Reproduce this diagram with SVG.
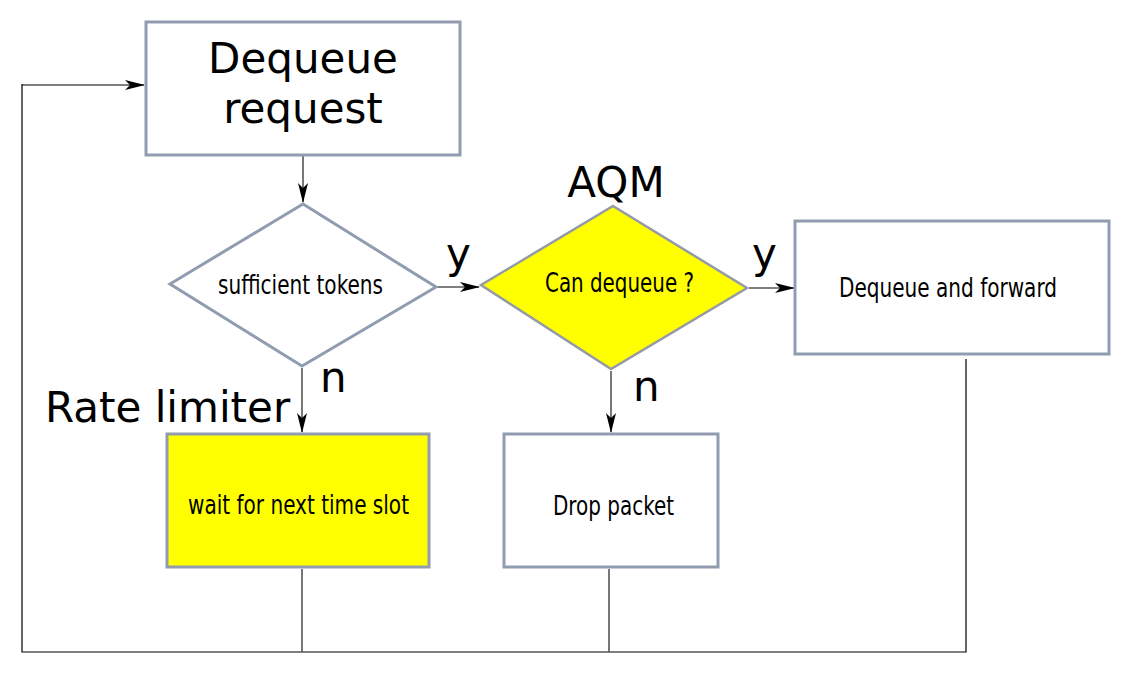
<svg xmlns="http://www.w3.org/2000/svg" width="1131" height="677" viewBox="0 0 1131 677">
<defs>
<style>
.box{fill:#ffffff;stroke:#919cb0;stroke-width:3}
.yel{fill:#ffff00}
.big{font-family:"DejaVu Sans",sans-serif;font-size:42px;fill:#000}
.lbl{font-family:"DejaVu Sans Condensed","DejaVu Sans",sans-serif;font-size:26px;fill:#000}
.con{fill:none;stroke:#555555;stroke-width:1.6}
.blk{fill:none;stroke:#000000;stroke-width:1.2}
</style>
<marker id="arr" viewBox="0 0 20 10" refX="19" refY="5" markerWidth="20" markerHeight="10" markerUnits="userSpaceOnUse" orient="auto">
<path d="M0,0 L20,5 L0,10 L5,5 Z" fill="#000"/>
</marker>
</defs>
<rect width="1131" height="677" fill="#ffffff"/>
<g id="connectors">
<path class="blk" d="M22,85 H144" marker-end="url(#arr)"/>
<path class="blk" d="M22,84 V652 H966 V359"/>
<path class="con" d="M303,156 V202" marker-end="url(#arr)"/>
<path class="con" d="M437,287 H479" marker-end="url(#arr)"/>
<path class="blk" d="M749,288 H794" marker-end="url(#arr)"/>
<path class="con" d="M302,368 V432" marker-end="url(#arr)"/>
<path class="con" d="M611,371 V432" marker-end="url(#arr)"/>
<path class="con" d="M302,569 V652"/>
<path class="con" d="M609,569 V652"/>
</g>
<g id="dequeue-request">
<rect class="box" x="146" y="22" width="314" height="133"/>
<text class="big" x="303" y="73" text-anchor="middle">Dequeue</text>
<text class="big" x="303" y="123" text-anchor="middle">request</text>
</g>
<g id="sufficient-tokens">
<polygon class="box" points="303,204 436,287 302,366 170,284"/>
<text class="lbl" x="218" y="294" textLength="165" lengthAdjust="spacingAndGlyphs">sufficient tokens</text>
</g>
<g id="can-dequeue">
<polygon class="yel" points="613,206 747,288 611,369 481,285" stroke="#959aa6" stroke-width="2.5"/>
<text class="lbl" x="545" y="292" textLength="149" lengthAdjust="spacingAndGlyphs">Can dequeue ?</text>
</g>
<g id="dequeue-forward">
<rect class="box" x="795" y="221" width="314" height="133"/>
<text class="lbl" x="839" y="297" textLength="218" lengthAdjust="spacingAndGlyphs">Dequeue and forward</text>
</g>
<g id="wait-slot">
<rect class="box yel" x="167" y="434" width="262" height="133"/>
<text class="lbl" x="188" y="514" textLength="221" lengthAdjust="spacingAndGlyphs">wait for next time slot</text>
</g>
<g id="drop-packet">
<rect class="box" x="504" y="434" width="214" height="133"/>
<text class="lbl" x="553" y="515" textLength="121" lengthAdjust="spacingAndGlyphs">Drop packet</text>
</g>
<g id="labels">
<text class="big" x="616" y="197" text-anchor="middle">AQM</text>
<text class="big" x="45" y="422">Rate limiter</text>
<text class="big" x="446" y="268">y</text>
<text class="big" x="752" y="268">y</text>
<text class="big" x="320" y="392">n</text>
<text class="big" x="633" y="401">n</text>
</g>
</svg>
